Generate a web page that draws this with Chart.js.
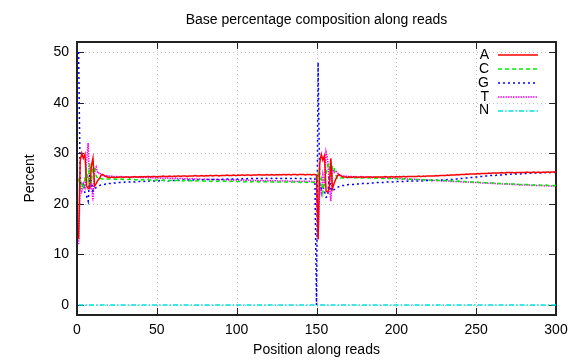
<!DOCTYPE html>
<html>
<head>
<meta charset="utf-8">
<script src="https://cdn.jsdelivr.net/npm/chart.js@4.4.1/dist/chart.umd.min.js"></script>
<style>
  html, body { margin: 0; padding: 0; background: #fff; }
  #grafico { display: block; }
</style>
</head>
<body>
<canvas id="grafico" width="576" height="360"></canvas>
<script>
// Datos: porcentaje de cada base por posicion (lectura 1: 1-150, lectura 2: 151-300)
const bases = ['A', 'C', 'G', 'T', 'N'];
const xTicks = [0, 50, 100, 150, 200, 250, 300];
const yTicks = [0, 10, 20, 30, 40, 50];

const valoresA = [
  13.0, 28.5, 30.0, 29.0, 29.8, 23.5, 23.0, 23.2, 27.5, 29.0,
  23.5, 24.0, 24.6, 25.0, 25.6, 25.8, 25.6, 25.4, 25.3, 25.2,
  25.2, 25.3, 25.2, 25.2, 25.3, 25.2, 25.3, 25.3, 25.2, 25.3,
  25.3, 25.3, 25.2, 25.3, 25.3, 25.4, 25.3, 25.3, 25.3, 25.4,
  25.3, 25.4, 25.3, 25.4, 25.4, 25.3, 25.4, 25.4, 25.4, 25.3,
  25.4, 25.4, 25.4, 25.5, 25.4, 25.4, 25.4, 25.5, 25.4, 25.4,
  25.5, 25.4, 25.5, 25.5, 25.4, 25.5, 25.5, 25.5, 25.4, 25.5,
  25.5, 25.5, 25.5, 25.6, 25.5, 25.5, 25.5, 25.6, 25.5, 25.5,
  25.6, 25.5, 25.6, 25.6, 25.5, 25.6, 25.6, 25.6, 25.5, 25.6,
  25.6, 25.6, 25.6, 25.7, 25.6, 25.6, 25.6, 25.7, 25.6, 25.6,
  25.7, 25.6, 25.7, 25.7, 25.6, 25.7, 25.7, 25.7, 25.6, 25.7,
  25.7, 25.7, 25.7, 25.8, 25.7, 25.7, 25.7, 25.7, 25.8, 25.7,
  25.7, 25.8, 25.7, 25.7, 25.8, 25.7, 25.8, 25.7, 25.8, 25.8,
  25.7, 25.8, 25.8, 25.7, 25.8, 25.8, 25.8, 25.7, 25.8, 25.8,
  25.8, 25.8, 25.7, 25.8, 25.8, 25.8, 25.7, 25.8, 25.8, 25.7,
  13.0, 28.0, 29.8, 28.6, 29.5, 22.5, 22.3, 23.0, 29.0, 23.0,
  24.0, 24.8, 25.5, 25.8, 25.6, 25.4, 25.3, 25.3, 25.2, 25.3,
  25.3, 25.2, 25.3, 25.3, 25.3, 25.2, 25.3, 25.3, 25.3, 25.2,
  25.3, 25.3, 25.3, 25.3, 25.2, 25.3, 25.3, 25.3, 25.3, 25.3,
  25.3, 25.3, 25.4, 25.3, 25.3, 25.3, 25.4, 25.3, 25.3, 25.4,
  25.3, 25.4, 25.3, 25.4, 25.4, 25.3, 25.4, 25.4, 25.4, 25.4,
  25.4, 25.4, 25.4, 25.5, 25.4, 25.4, 25.5, 25.4, 25.5, 25.5,
  25.5, 25.5, 25.5, 25.5, 25.6, 25.5, 25.6, 25.6, 25.6, 25.6,
  25.6, 25.7, 25.6, 25.7, 25.7, 25.7, 25.7, 25.8, 25.7, 25.8,
  25.8, 25.8, 25.8, 25.9, 25.8, 25.9, 25.9, 25.9, 25.9, 25.9,
  26.0, 25.9, 26.0, 26.0, 26.0, 26.0, 26.0, 26.1, 26.0, 26.1,
  26.1, 26.1, 26.1, 26.1, 26.1, 26.2, 26.1, 26.1, 26.2, 26.2,
  26.2, 26.2, 26.2, 26.1, 26.2, 26.2, 26.2, 26.2, 26.2, 26.2,
  26.2, 26.3, 26.2, 26.2, 26.2, 26.3, 26.2, 26.2, 26.3, 26.2,
  26.2, 26.3, 26.2, 26.3, 26.3, 26.2, 26.3, 26.3, 26.3, 26.3
];

const valoresC = [
  25.0, 23.0, 24.0, 23.0, 25.0, 26.5, 24.5, 28.0, 24.0, 28.0,
  27.0, 25.5, 25.0, 25.2, 25.0, 24.9, 24.9, 25.0, 24.9, 24.9,
  24.9, 24.9, 24.9, 24.8, 24.9, 24.9, 24.8, 24.9, 24.8, 24.8,
  24.8, 24.8, 24.9, 24.8, 24.8, 24.8, 24.7, 24.8, 24.8, 24.7,
  24.8, 24.7, 24.7, 24.8, 24.7, 24.7, 24.7, 24.7, 24.6, 24.7,
  24.7, 24.7, 24.6, 24.7, 24.6, 24.7, 24.6, 24.6, 24.6, 24.7,
  24.6, 24.6, 24.6, 24.6, 24.6, 24.5, 24.6, 24.6, 24.6, 24.5,
  24.6, 24.5, 24.6, 24.5, 24.5, 24.6, 24.5, 24.5, 24.5, 24.5,
  24.5, 24.5, 24.5, 24.4, 24.5, 24.5, 24.5, 24.4, 24.5, 24.5,
  24.4, 24.5, 24.4, 24.5, 24.4, 24.4, 24.5, 24.4, 24.4, 24.4,
  24.4, 24.4, 24.4, 24.4, 24.3, 24.4, 24.4, 24.4, 24.3, 24.4,
  24.4, 24.3, 24.4, 24.3, 24.4, 24.3, 24.3, 24.4, 24.3, 24.3,
  24.3, 24.3, 24.3, 24.4, 24.3, 24.3, 24.3, 24.3, 24.3, 24.3,
  24.3, 24.3, 24.2, 24.3, 24.3, 24.3, 24.2, 24.3, 24.3, 24.2,
  24.3, 24.2, 24.3, 24.2, 24.3, 24.2, 24.3, 24.2, 24.2, 24.3,
  26.0, 24.0, 25.0, 22.2, 24.5, 26.0, 27.5, 28.0, 25.0, 27.5,
  27.0, 25.8, 25.0, 25.2, 25.1, 25.1, 25.1, 25.2, 25.1, 25.2,
  25.2, 25.2, 25.1, 25.2, 25.1, 25.2, 25.2, 25.1, 25.1, 25.2,
  25.1, 25.1, 25.1, 25.1, 25.1, 25.0, 25.1, 25.1, 25.0, 25.1,
  25.0, 25.0, 25.1, 25.0, 25.0, 25.0, 25.0, 24.9, 25.0, 25.0,
  24.9, 25.0, 24.9, 24.9, 24.9, 24.9, 24.9, 24.8, 24.9, 24.8,
  24.8, 24.8, 24.8, 24.8, 24.8, 24.7, 24.8, 24.7, 24.7, 24.7,
  24.7, 24.7, 24.7, 24.6, 24.7, 24.6, 24.6, 24.6, 24.6, 24.6,
  24.6, 24.5, 24.6, 24.5, 24.5, 24.5, 24.5, 24.4, 24.5, 24.4,
  24.4, 24.4, 24.4, 24.3, 24.4, 24.3, 24.3, 24.3, 24.3, 24.2,
  24.3, 24.2, 24.2, 24.2, 24.2, 24.1, 24.2, 24.1, 24.1, 24.1,
  24.1, 24.0, 24.1, 24.0, 24.0, 24.0, 24.0, 23.9, 24.0, 23.9,
  23.9, 23.9, 23.9, 23.9, 23.8, 23.9, 23.8, 23.8, 23.8, 23.8,
  23.8, 23.8, 23.7, 23.8, 23.7, 23.7, 23.7, 23.7, 23.7, 23.7,
  23.6, 23.7, 23.6, 23.7, 23.6, 23.6, 23.6, 23.6, 23.6, 23.6
];

const valoresG = [
  50.0, 24.5, 23.5, 24.0, 22.0, 21.5, 20.5, 26.0, 24.5, 22.5,
  23.0, 23.2, 23.4, 23.6, 23.7, 23.8, 23.8, 23.9, 23.9, 24.0,
  24.0, 24.0, 24.1, 24.1, 24.1, 24.2, 24.2, 24.2, 24.2, 24.3,
  24.3, 24.3, 24.3, 24.3, 24.4, 24.3, 24.4, 24.4, 24.4, 24.4,
  24.4, 24.4, 24.5, 24.4, 24.5, 24.5, 24.5, 24.5, 24.5, 24.5,
  24.5, 24.6, 24.5, 24.6, 24.6, 24.6, 24.5, 24.6, 24.6, 24.6,
  24.6, 24.6, 24.7, 24.6, 24.6, 24.7, 24.7, 24.6, 24.7, 24.7,
  24.7, 24.7, 24.7, 24.7, 24.8, 24.7, 24.7, 24.8, 24.7, 24.8,
  24.8, 24.8, 24.8, 24.8, 24.8, 24.8, 24.9, 24.8, 24.8, 24.9,
  24.8, 24.9, 24.9, 24.9, 24.9, 24.9, 24.9, 24.9, 25.0, 24.9,
  24.9, 25.0, 24.9, 25.0, 25.0, 24.9, 25.0, 25.0, 25.0, 25.0,
  25.0, 25.0, 25.0, 25.1, 25.0, 25.0, 25.0, 25.1, 25.0, 25.0,
  25.1, 25.0, 25.0, 25.1, 25.0, 25.1, 25.0, 25.0, 25.1, 25.0,
  25.0, 25.1, 25.0, 25.0, 25.0, 25.1, 25.0, 25.0, 25.0, 25.0,
  25.0, 25.0, 24.9, 25.0, 25.0, 25.0, 24.9, 25.0, 25.0, 0.0,
  48.0, 24.0, 23.0, 23.5, 22.5, 21.3, 21.5, 25.5, 23.0, 22.5,
  22.8, 23.0, 23.2, 23.4, 23.5, 23.6, 23.6, 23.7, 23.7, 23.8,
  23.8, 23.8, 23.8, 23.9, 23.9, 23.9, 23.9, 24.0, 24.0, 24.0,
  24.0, 24.0, 24.1, 24.1, 24.1, 24.1, 24.1, 24.2, 24.2, 24.2,
  24.2, 24.2, 24.2, 24.3, 24.3, 24.3, 24.3, 24.3, 24.3, 24.4,
  24.4, 24.4, 24.4, 24.4, 24.4, 24.4, 24.5, 24.4, 24.5, 24.5,
  24.5, 24.5, 24.5, 24.5, 24.5, 24.5, 24.6, 24.5, 24.6, 24.6,
  24.6, 24.6, 24.6, 24.6, 24.7, 24.6, 24.7, 24.7, 24.7, 24.7,
  24.7, 24.8, 24.8, 24.8, 24.8, 24.9, 24.9, 24.9, 24.9, 25.0,
  25.0, 25.0, 25.1, 25.1, 25.1, 25.2, 25.2, 25.2, 25.3, 25.3,
  25.3, 25.4, 25.4, 25.4, 25.5, 25.5, 25.5, 25.5, 25.6, 25.6,
  25.6, 25.6, 25.7, 25.7, 25.7, 25.7, 25.8, 25.8, 25.8, 25.8,
  25.8, 25.9, 25.9, 25.9, 25.9, 25.9, 26.0, 25.9, 26.0, 26.0,
  26.0, 26.0, 26.0, 26.1, 26.0, 26.1, 26.1, 26.1, 26.1, 26.1,
  26.1, 26.1, 26.2, 26.1, 26.2, 26.2, 26.2, 26.2, 26.2, 26.2
];

const valoresT = [
  12.0, 24.0, 22.5, 24.0, 23.2, 28.5, 32.0, 22.8, 24.0, 20.5,
  26.5, 27.3, 26.0, 26.2, 25.7, 25.6, 25.5, 25.5, 25.6, 25.5,
  25.4, 25.5, 25.4, 25.4, 25.4, 25.3, 25.4, 25.4, 25.3, 25.4,
  25.3, 25.3, 25.3, 25.3, 25.2, 25.3, 25.3, 25.2, 25.3, 25.2,
  25.2, 25.2, 25.2, 25.2, 25.1, 25.2, 25.2, 25.1, 25.1, 25.2,
  25.1, 25.1, 25.1, 25.1, 25.1, 25.0, 25.1, 25.1, 25.0, 25.0,
  25.0, 25.1, 25.0, 25.0, 25.0, 25.0, 24.9, 25.0, 25.0, 24.9,
  24.9, 25.0, 24.9, 24.9, 24.9, 24.9, 24.9, 24.8, 24.9, 24.9,
  24.8, 24.9, 24.8, 24.8, 24.8, 24.8, 24.8, 24.8, 24.7, 24.8,
  24.8, 24.7, 24.8, 24.7, 24.7, 24.8, 24.7, 24.7, 24.7, 24.7,
  24.7, 24.7, 24.6, 24.7, 24.7, 24.6, 24.7, 24.6, 24.6, 24.7,
  24.6, 24.6, 24.6, 24.6, 24.6, 24.6, 24.5, 24.6, 24.6, 24.5,
  24.6, 24.5, 24.5, 24.6, 24.5, 24.5, 24.5, 24.5, 24.5, 24.5,
  24.5, 24.5, 24.4, 24.5, 24.5, 24.4, 24.5, 24.4, 24.5, 24.4,
  24.4, 24.5, 24.4, 24.4, 24.4, 24.5, 24.4, 24.4, 24.4, 24.4,
  13.0, 24.0, 22.2, 25.7, 23.5, 30.2, 28.7, 23.5, 20.5, 27.0,
  26.2, 26.5, 26.3, 25.6, 25.5, 25.6, 25.5, 25.5, 25.4, 25.4,
  25.4, 25.4, 25.4, 25.3, 25.4, 25.3, 25.3, 25.4, 25.3, 25.3,
  25.3, 25.3, 25.2, 25.3, 25.2, 25.3, 25.2, 25.2, 25.2, 25.2,
  25.2, 25.1, 25.2, 25.1, 25.1, 25.1, 25.1, 25.0, 25.1, 25.0,
  25.0, 25.0, 25.0, 24.9, 25.0, 24.9, 24.9, 24.9, 24.9, 24.8,
  24.9, 24.8, 24.8, 24.8, 24.8, 24.7, 24.8, 24.7, 24.7, 24.7,
  24.7, 24.6, 24.7, 24.6, 24.6, 24.6, 24.6, 24.5, 24.6, 24.5,
  24.5, 24.5, 24.5, 24.4, 24.5, 24.4, 24.4, 24.4, 24.4, 24.3,
  24.4, 24.3, 24.3, 24.3, 24.3, 24.2, 24.3, 24.2, 24.2, 24.2,
  24.2, 24.1, 24.2, 24.1, 24.1, 24.1, 24.1, 24.0, 24.1, 24.0,
  24.0, 24.0, 24.0, 23.9, 24.0, 23.9, 23.9, 23.9, 23.9, 23.8,
  23.9, 23.8, 23.8, 23.8, 23.8, 23.8, 23.7, 23.8, 23.7, 23.7,
  23.7, 23.7, 23.7, 23.7, 23.6, 23.7, 23.6, 23.6, 23.6, 23.6,
  23.6, 23.6, 23.5, 23.6, 23.5, 23.5, 23.5, 23.5, 23.5, 23.5
];

const valoresN = [
  0, 0, 0, 0, 0, 0, 0, 0, 0, 0, 0, 0, 0, 0, 0, 0, 0, 0, 0, 0, 0, 0, 0, 0, 0, 0, 0, 0, 0, 0,
  0, 0, 0, 0, 0, 0, 0, 0, 0, 0, 0, 0, 0, 0, 0, 0, 0, 0, 0, 0, 0, 0, 0, 0, 0, 0, 0, 0, 0, 0,
  0, 0, 0, 0, 0, 0, 0, 0, 0, 0, 0, 0, 0, 0, 0, 0, 0, 0, 0, 0, 0, 0, 0, 0, 0, 0, 0, 0, 0, 0,
  0, 0, 0, 0, 0, 0, 0, 0, 0, 0, 0, 0, 0, 0, 0, 0, 0, 0, 0, 0, 0, 0, 0, 0, 0, 0, 0, 0, 0, 0,
  0, 0, 0, 0, 0, 0, 0, 0, 0, 0, 0, 0, 0, 0, 0, 0, 0, 0, 0, 0, 0, 0, 0, 0, 0, 0, 0, 0, 0, 0,
  0, 0, 0, 0, 0, 0, 0, 0, 0, 0, 0, 0, 0, 0, 0, 0, 0, 0, 0, 0, 0, 0, 0, 0, 0, 0, 0, 0, 0, 0,
  0, 0, 0, 0, 0, 0, 0, 0, 0, 0, 0, 0, 0, 0, 0, 0, 0, 0, 0, 0, 0, 0, 0, 0, 0, 0, 0, 0, 0, 0,
  0, 0, 0, 0, 0, 0, 0, 0, 0, 0, 0, 0, 0, 0, 0, 0, 0, 0, 0, 0, 0, 0, 0, 0, 0, 0, 0, 0, 0, 0,
  0, 0, 0, 0, 0, 0, 0, 0, 0, 0, 0, 0, 0, 0, 0, 0, 0, 0, 0, 0, 0, 0, 0, 0, 0, 0, 0, 0, 0, 0,
  0, 0, 0, 0, 0, 0, 0, 0, 0, 0, 0, 0, 0, 0, 0, 0, 0, 0, 0, 0, 0, 0, 0, 0, 0, 0, 0, 0, 0, 0
];

// posiciones 1..300 a lo largo de las lecturas
const posiciones = valoresA.map((_, i) => i + 1);

const fuente = '"Liberation Sans", Arial, Helvetica, sans-serif';
const estilos = [
  { color: '#ff0000', dash: [] },
  { color: '#00ee00', dash: [4, 3] },
  { color: '#0000ff', dash: [2, 3] },
  { color: '#ff00ff', dash: [1.5, 1] },
  { color: '#00e0e0', dash: [5, 2, 1.5, 2] }
];
const series = [valoresA, valoresC, valoresG, valoresT, valoresN];
const grosor = 1.5;

// Marco estilo gnuplot: rejilla punteada, borde y marcas hacia dentro
const marco = {
  id: 'marco',
  beforeDatasetsDraw(chart) {
    const { ctx, chartArea: a, scales: { x, y } } = chart;
    ctx.save();
    ctx.strokeStyle = '#c0c0c0';
    ctx.lineWidth = 1;
    ctx.setLineDash([1, 3]);
    xTicks.forEach(v => {
      const px = Math.round(x.getPixelForValue(v)) + 0.5;
      ctx.beginPath(); ctx.moveTo(px, a.top); ctx.lineTo(px, a.bottom); ctx.stroke();
    });
    yTicks.forEach(v => {
      const py = Math.round(y.getPixelForValue(v)) + 0.5;
      ctx.beginPath(); ctx.moveTo(a.left, py); ctx.lineTo(a.right, py); ctx.stroke();
    });
    ctx.setLineDash([]);
    ctx.strokeStyle = '#222';
    ctx.lineWidth = 1;
    xTicks.forEach(v => {
      const px = Math.round(x.getPixelForValue(v)) + 0.5;
      ctx.beginPath();
      ctx.moveTo(px, a.bottom); ctx.lineTo(px, a.bottom - 7);
      ctx.moveTo(px, a.top); ctx.lineTo(px, a.top + 7);
      ctx.stroke();
    });
    yTicks.forEach(v => {
      const py = Math.round(y.getPixelForValue(v)) + 0.5;
      ctx.beginPath();
      ctx.moveTo(a.left, py); ctx.lineTo(a.left + 7, py);
      ctx.moveTo(a.right, py); ctx.lineTo(a.right - 7, py);
      ctx.stroke();
    });
    ctx.lineWidth = 2;
    ctx.strokeRect(a.left, a.top, a.right - a.left, a.bottom - a.top);
    ctx.restore();
  },
  afterDatasetsDraw(chart) {
    const { ctx, chartArea: a } = chart;
    ctx.save();
    ctx.fillStyle = '#000';
    ctx.font = '14px ' + fuente;
    // titulo y nombres de ejes
    ctx.textAlign = 'center';
    ctx.textBaseline = 'middle';
    ctx.fillText('Base percentage composition along reads', (a.left + a.right) / 2, 20);
    ctx.fillText('Position along reads', (a.left + a.right) / 2, 350);
    ctx.save();
    ctx.translate(30, (a.top + a.bottom) / 2);
    ctx.rotate(-Math.PI / 2);
    ctx.fillText('Percent', 0, 0);
    ctx.restore();
    // leyenda
    bases.forEach((b, i) => {
      const yy = 55 + i * 13.9;
      ctx.textAlign = 'right';
      ctx.fillStyle = '#000';
      ctx.fillText(b, 489, yy);
      ctx.strokeStyle = estilos[i].color;
      ctx.lineWidth = grosor;
      ctx.setLineDash(estilos[i].dash);
      ctx.beginPath(); ctx.moveTo(498, Math.round(yy)); ctx.lineTo(538, Math.round(yy)); ctx.stroke();
    });
    ctx.restore();
  }
};

const ctxGrafico = document.getElementById('grafico').getContext('2d');
new Chart(ctxGrafico, {
  type: 'line',
  data: {
    datasets: bases.map((b, i) => ({
      label: b,
      data: posiciones.map((p, k) => ({ x: p, y: series[i][k] })),
      borderColor: estilos[i].color,
      borderDash: estilos[i].dash,
      borderWidth: grosor,
      pointRadius: 0,
      tension: 0,
      fill: false
    }))
  },
  options: {
    responsive: false,
    devicePixelRatio: 1,
    animation: false,
    layout: { padding: { top: 42, right: 20, bottom: 0, left: 0 } },
    plugins: {
      legend: { display: false },
      title: { display: false },
      tooltip: { enabled: false }
    },
    scales: {
      x: {
        type: 'linear',
        min: 0,
        max: 300,
        afterBuildTicks: s => { s.ticks = xTicks.map(v => ({ value: v })); },
        afterFit: s => { s.height = 45; },
        grid: { display: false, drawTicks: false },
        border: { display: false },
        ticks: { color: '#000', padding: 7, maxRotation: 0, font: { size: 14, family: fuente } }
      },
      y: {
        min: -2,
        max: 52,
        afterBuildTicks: s => { s.ticks = yTicks.map(v => ({ value: v })); },
        afterFit: s => { s.width = 77; },
        grid: { display: false, drawTicks: false },
        border: { display: false },
        ticks: { color: '#000', padding: 8, font: { size: 14, family: fuente } }
      }
    }
  },
  plugins: [marco]
});
</script>
</body>
</html>
